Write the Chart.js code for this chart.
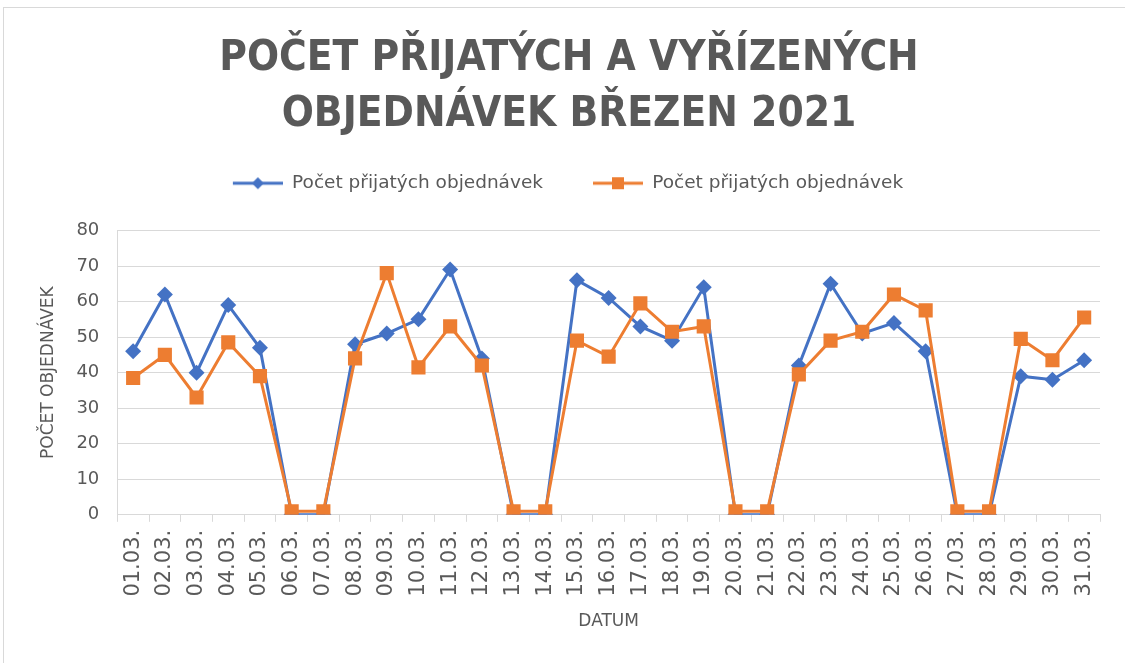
<!DOCTYPE html>
<html lang="cs">
<head>
    <meta charset="UTF-8">
    <title>Počet přijatých a vyřízených objednávek březen 2021</title>
    <script src="https://cdn.jsdelivr.net/npm/chart.js"></script>
    <style>
        html, body {
            margin: 0;
            padding: 0;
            background: #ffffff;
            overflow: hidden;
        }
        .frame {
            position: absolute;
            left: 3px;
            top: 7px;
            width: 1200px;
            height: 700px;
            border: 1px solid #d9d9d9;
        }
        #chartWrap {
            position: absolute;
            left: 0;
            top: 0;
            width: 1125px;
            height: 663px;
        }
    </style>
</head>
<body>
    <div class="frame"></div>
    <div id="chartWrap">
        <canvas id="ordersChart" width="1125" height="663"></canvas>
    </div>

    <script>
        // data
        const days = ['01.03.', '02.03.', '03.03.', '04.03.', '05.03.', '06.03.', '07.03.', '08.03.',
            '09.03.', '10.03.', '11.03.', '12.03.', '13.03.', '14.03.', '15.03.', '16.03.', '17.03.',
            '18.03.', '19.03.', '20.03.', '21.03.', '22.03.', '23.03.', '24.03.', '25.03.', '26.03.',
            '27.03.', '28.03.', '29.03.', '30.03.', '31.03.'];
        const received = [46, 62, 40, 59, 47, 0, 0, 48, 51, 55, 69, 44, 0, 0, 66, 61, 53, 49, 64,
            0, 0, 42, 65, 51, 54, 46, 0, 0, 39, 38, 43.5];
        const handled = [38.5, 45, 33, 48.5, 39, 1, 1, 44, 68, 41.5, 53, 42, 1, 1, 49, 44.5, 59.5,
            51.5, 53, 1, 1, 39.5, 49, 51.5, 62, 57.5, 1, 1, 49.5, 43.5, 55.5];
        const seriesNames = ['Počet přijatých objednávek', 'Počet přijatých objednávek'];
        const yTicks = [0, 10, 20, 30, 40, 50, 60, 70, 80];

        const BLUE = '#4472C4';
        const ORANGE = '#ED7D31';
        const TEXT = '#595959';
        const GRID = '#d9d9d9';

        // legend swatch: line with marker, like the spreadsheet legend
        function legendSwatch(color, marker) {
            const c = document.createElement('canvas');
            c.width = 90;
            c.height = 16;
            const g = c.getContext('2d');
            g.strokeStyle = color;
            g.lineWidth = 3;
            g.beginPath();
            g.moveTo(40, 8);
            g.lineTo(90, 8);
            g.stroke();
            g.fillStyle = color;
            if (marker === 'diamond') {
                g.beginPath();
                g.moveTo(65, 2);
                g.lineTo(71, 8);
                g.lineTo(65, 14);
                g.lineTo(59, 8);
                g.closePath();
                g.fill();
            } else {
                g.fillRect(59, 2, 12, 12);
            }
            return c;
        }
        const swatches = [legendSwatch(BLUE, 'diamond'), legendSwatch(ORANGE, 'square')];

        // some empty room under the legend, and shift it a little left, as in the original
        const legendGap = {
            id: 'legendGap',
            beforeInit(chart) {
                const fit = chart.legend.fit;
                chart.legend.fit = function () {
                    fit.call(this);
                    this.height += 28;
                };
            },
            afterLayout(chart) {
                chart.legend.left -= 21;
                chart.legend.right -= 21;
            }
        };

        const ctx = document.getElementById('ordersChart').getContext('2d');
        new Chart(ctx, {
            type: 'line',
            data: {
                labels: days,
                datasets: [{
                    label: seriesNames[0],
                    data: received,
                    borderColor: BLUE,
                    backgroundColor: BLUE,
                    borderWidth: 3,
                    pointStyle: 'rectRot',
                    pointRadius: 8,
                    pointHoverRadius: 8,
                    pointBorderWidth: 0,
                    tension: 0,
                    order: 1
                }, {
                    label: seriesNames[1],
                    data: handled,
                    borderColor: ORANGE,
                    backgroundColor: ORANGE,
                    borderWidth: 3,
                    pointStyle: 'rect',
                    pointRadius: 10,
                    pointHoverRadius: 10,
                    pointBorderWidth: 0,
                    tension: 0,
                    order: 0
                }]
            },
            plugins: [legendGap],
            options: {
                responsive: false,
                animation: false,
                layout: {
                    padding: { top: 22, left: 38, right: 25, bottom: 31 }
                },
                plugins: {
                    title: {
                        display: true,
                        text: ['POČET PŘIJATÝCH A VYŘÍZENÝCH', 'OBJEDNÁVEK BŘEZEN 2021'],
                        color: TEXT,
                        font: { family: 'DejaVu Sans Condensed', size: 42, weight: 'bold', lineHeight: 1.333 },
                        padding: { top: 9, bottom: 21 }
                    },
                    legend: {
                        display: true,
                        position: 'top',
                        labels: {
                            color: TEXT,
                            font: { family: 'DejaVu Sans', size: 18.5 },
                            usePointStyle: true,
                            pointStyleWidth: 90,
                            padding: 10,
                            generateLabels(chart) {
                                const items = Chart.defaults.plugins.legend.labels.generateLabels(chart);
                                items.sort((a, b) => a.datasetIndex - b.datasetIndex);
                                items.forEach(it => {
                                    it.pointStyle = swatches[it.datasetIndex];
                                    it.fontColor = TEXT;
                                });
                                return items;
                            }
                        }
                    },
                    tooltip: { enabled: false }
                },
                scales: {
                    x: {
                        offset: true,
                        grid: {
                            offset: true,
                            drawOnChartArea: false,
                            color: GRID,
                            tickLength: 7
                        },
                        border: { display: true, color: GRID },
                        ticks: {
                            color: TEXT,
                            font: { family: 'DejaVu Sans', size: 21 },
                            minRotation: 90,
                            maxRotation: 90,
                            autoSkip: false,
                            padding: 8
                        },
                        title: {
                            display: true,
                            text: 'DATUM',
                            color: TEXT,
                            font: { family: 'DejaVu Sans', size: 17 },
                            padding: { top: 7, bottom: 0 }
                        }
                    },
                    y: {
                        min: 0,
                        max: 80,
                        afterBuildTicks(axis) {
                            axis.ticks = yTicks.map(v => ({ value: v }));
                        },
                        grid: {
                            color: GRID,
                            drawTicks: false
                        },
                        border: { display: true, color: GRID },
                        ticks: {
                            color: TEXT,
                            font: { family: 'DejaVu Sans', size: 18 },
                            padding: 18
                        },
                        title: {
                            display: true,
                            text: 'POČET OBJEDNÁVEK',
                            color: TEXT,
                            font: { family: 'DejaVu Sans', size: 17 },
                            padding: 0
                        }
                    }
                }
            }
        });
    </script>
</body>
</html>
